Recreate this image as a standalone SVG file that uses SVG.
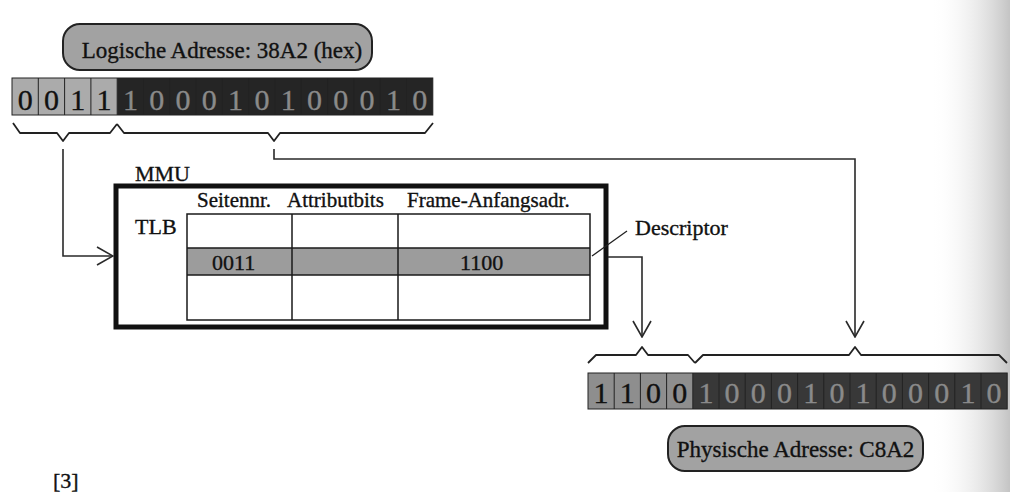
<svg xmlns="http://www.w3.org/2000/svg" width="1010" height="492" viewBox="0 0 1010 492">
<style>
text{font-family:"Liberation Serif","Times New Roman",serif;fill:#111;stroke:#111;stroke-width:0.35}
.lbl{font-size:22px}
.hdr{font-size:21px}
.pilltxt{font-size:23px;text-anchor:middle}
.bit{font-size:30px;text-anchor:middle}
.bitd{fill:#8a8a8a;stroke:#8a8a8a}
.cell{stroke:#222;stroke-width:1}
.light{fill:#ababab}
.dark{fill:#252525}
.plight{fill:#8e8e8e}
.pdark{fill:#383838}
.pill{fill:#a2a2a2;stroke:#222;stroke-width:2}
.brace{fill:none;stroke:#222;stroke-width:1.8;stroke-linejoin:round}
.conn{fill:none;stroke:#2a2a2a;stroke-width:1.6}
.tbl{fill:none;stroke:#1a1a1a;stroke-width:1.5}
</style>
<defs>
<marker id="vhead" markerUnits="userSpaceOnUse" markerWidth="18" markerHeight="20" viewBox="0 0 18 20" refX="17" refY="10" orient="auto">
<path d="M1,1 L17,10 L1,19" fill="none" stroke="#2a2a2a" stroke-width="1.6"/>
</marker>
<linearGradient id="edge" x1="0" y1="0" x2="1" y2="0">
<stop offset="0" stop-color="#ffffff" stop-opacity="0"/>
<stop offset="1" stop-color="#c4c4c4" stop-opacity="1"/>
</linearGradient>
</defs>
<rect x="0" y="0" width="1010" height="492" fill="#ffffff"/>
<rect x="930" y="0" width="80" height="492" fill="url(#edge)"/>

<g id="logical-address">
<rect class="pill" x="63" y="24" width="309" height="46" rx="17"/>
<text class="pilltxt" x="222" y="58">Logische Adresse: 38A2 (hex)</text>
</g>

<g id="logical-bits">
<rect class="light" x="12" y="78" width="105.2" height="37"/>
<rect class="dark" x="117.2" y="78" width="315.6" height="37"/>
<g class="cell" fill="none">
<rect x="12" y="78" width="420.8" height="37"/>
<path d="M38.3,78V115M64.6,78V115M90.9,78V115M117.2,78V115M143.5,78V115M169.8,78V115M196.1,78V115M222.4,78V115M248.7,78V115M275,78V115M301.3,78V115M327.6,78V115M353.9,78V115M380.2,78V115M406.5,78V115"/>
</g>
<text class="bit" x="25.2" y="110">0</text>
<text class="bit" x="51.5" y="110">0</text>
<text class="bit" x="77.8" y="110">1</text>
<text class="bit" x="104.1" y="110">1</text>
<text class="bit bitd" x="130.4" y="110">1</text>
<text class="bit bitd" x="156.7" y="110">0</text>
<text class="bit bitd" x="183.0" y="110">0</text>
<text class="bit bitd" x="209.3" y="110">0</text>
<text class="bit bitd" x="235.6" y="110">1</text>
<text class="bit bitd" x="261.9" y="110">0</text>
<text class="bit bitd" x="288.2" y="110">1</text>
<text class="bit bitd" x="314.5" y="110">0</text>
<text class="bit bitd" x="340.8" y="110">0</text>
<text class="bit bitd" x="367.1" y="110">0</text>
<text class="bit bitd" x="393.4" y="110">1</text>
<text class="bit bitd" x="419.7" y="110">0</text>
</g>

<g id="logical-braces">
<path class="brace" d="M13,123 L20,133 H57 L63,141 L69,133 H110 L117,124"/>
<path class="brace" d="M117,124 L124,133 H268 L274,141 L280,133 H425 L433,123"/>
</g>

<g id="mmu">
<rect x="116" y="186" width="490" height="141" fill="none" stroke="#111" stroke-width="5"/>
<text class="lbl" x="135" y="181">MMU</text>
</g>

<g id="tlb">
<text class="lbl" x="135" y="234">TLB</text>
<text class="hdr" x="197" y="207">Seitennr.</text>
<text class="hdr" x="287" y="207">Attributbits</text>
<text class="hdr" x="407" y="207">Frame-Anfangsadr.</text>
<rect x="187" y="248" width="403" height="27" fill="#9c9c9c"/>
<rect class="tbl" x="187" y="214" width="403" height="106"/>
<path class="tbl" d="M187,248H590M187,275H590M292,214V320M398,214V320"/>
<text class="lbl" x="212" y="270">0011</text>
<text class="lbl" x="460" y="270">1100</text>
</g>

<g id="descriptor">
<text class="lbl" x="635" y="235">Descriptor</text>
<path d="M592,256 L627,231" fill="none" stroke="#222" stroke-width="1.3"/>
</g>

<g id="physical-braces">
<path class="brace" d="M588,363 L596,355 H636 L642,347 L648,355 H688 L695,363"/>
<path class="brace" d="M695,363 L703,355 H849 L855,347 L861,355 H999 L1007,363"/>
</g>

<g id="physical-bits">
<rect class="plight" x="588" y="373" width="104.8" height="36"/>
<rect class="pdark" x="692.8" y="373" width="314.4" height="36"/>
<g class="cell" fill="none">
<rect x="588" y="373" width="419.2" height="36"/>
<path d="M614.2,373V409M640.4,373V409M666.6,373V409M692.8,373V409M719,373V409M745.2,373V409M771.4,373V409M797.6,373V409M823.8,373V409M850,373V409M876.2,373V409M902.4,373V409M928.6,373V409M954.8,373V409M981,373V409"/>
</g>
<text class="bit" x="601.1" y="403">1</text>
<text class="bit" x="627.3" y="403">1</text>
<text class="bit" x="653.5" y="403">0</text>
<text class="bit" x="679.7" y="403">0</text>
<text class="bit bitd" x="705.9" y="403">1</text>
<text class="bit bitd" x="732.1" y="403">0</text>
<text class="bit bitd" x="758.3" y="403">0</text>
<text class="bit bitd" x="784.5" y="403">0</text>
<text class="bit bitd" x="810.7" y="403">1</text>
<text class="bit bitd" x="836.9" y="403">0</text>
<text class="bit bitd" x="863.1" y="403">1</text>
<text class="bit bitd" x="889.3" y="403">0</text>
<text class="bit bitd" x="915.5" y="403">0</text>
<text class="bit bitd" x="941.7" y="403">0</text>
<text class="bit bitd" x="967.9" y="403">1</text>
<text class="bit bitd" x="994.1" y="403">0</text>
</g>

<g id="physical-address">
<rect class="pill" x="668" y="426" width="255" height="45" rx="17"/>
<text class="pilltxt" x="795.5" y="457">Physische Adresse: C8A2</text>
</g>

<g id="connectors">
<path class="conn" d="M63,149 V256 H113" marker-end="url(#vhead)"/>
<path class="conn" d="M274,149 V159 H855 V337" marker-end="url(#vhead)"/>
<path class="conn" d="M608,257 H642 V337" marker-end="url(#vhead)"/>
</g>

<text class="lbl" x="53" y="488">[3]</text>
</svg>
